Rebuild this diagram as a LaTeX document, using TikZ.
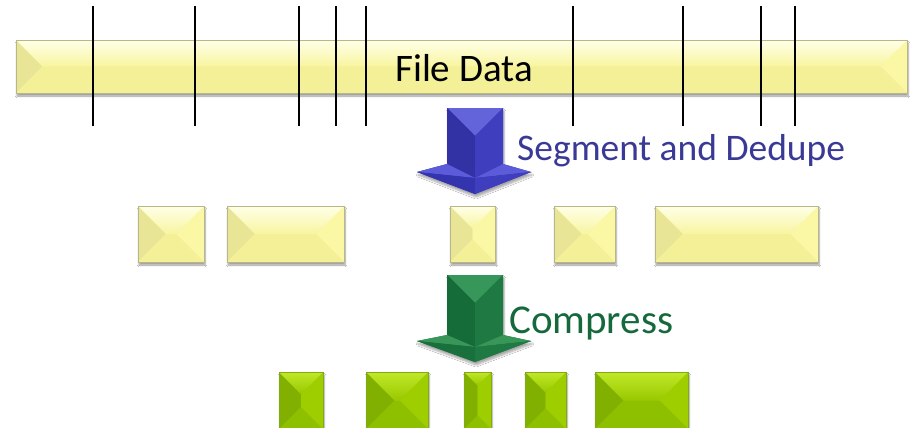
\documentclass[tikz,border=0pt]{standalone}
\usepackage{fontspec}
\setmainfont{Carlito}
\usetikzlibrary{calc,shadows.blur}

\definecolor{ymain}{RGB}{248,245,160}
\definecolor{ylight}{RGB}{255,255,232}
\definecolor{yleft}{RGB}{233,229,150}
\definecolor{yright}{RGB}{250,247,165}
\definecolor{ybottom}{RGB}{244,240,152}
\definecolor{yedge}{RGB}{185,182,135}
\definecolor{gmain}{RGB}{152,200,0}
\definecolor{glight}{RGB}{192,232,40}
\definecolor{gleft}{RGB}{130,176,0}
\definecolor{gright}{RGB}{158,206,0}
\definecolor{gbottom}{RGB}{142,192,0}
\definecolor{gedge}{RGB}{130,170,20}
\definecolor{bluetop}{RGB}{100,100,218}
\definecolor{blueleft}{RGB}{50,50,165}
\definecolor{blueright}{RGB}{62,62,190}
\definecolor{bluewing}{RGB}{92,92,218}
\definecolor{bluelow}{RGB}{52,52,175}
\definecolor{bluetext}{RGB}{58,58,150}
\definecolor{greentop}{RGB}{55,150,90}
\definecolor{greenleft}{RGB}{22,108,57}
\definecolor{greenright}{RGB}{30,122,66}
\definecolor{greenwing}{RGB}{55,150,88}
\definecolor{greenlow}{RGB}{25,112,60}
\definecolor{greentext}{RGB}{22,105,60}

% facets of a bevelled block: left, right, bottom, top (upper), top (lower)
\newcommand{\bevelfaces}[5]{%
  \path let \p1=(path picture bounding box.south west), \p2=(path picture bounding box.north east),
    \n1={min(\x2-\x1,\y2-\y1)/2} in (\x1+\n1,\y2-\n1) coordinate (in1) (\x2-\n1,\y1+\n1) coordinate (in2);
  \fill[#1] (path picture bounding box.south west) -- (path picture bounding box.north west) -- (in1) -- (in1|-in2) -- cycle;
  \fill[#2] (path picture bounding box.north east) -- (path picture bounding box.south east) -- (in2) -- (in2|-in1) -- cycle;
  \fill[#3] (path picture bounding box.south west) -- (path picture bounding box.south east) -- (in2) -- (in1|-in2) -- cycle;
  \shade[top color=#4, bottom color=#5] (path picture bounding box.north west) -- (path picture bounding box.north east) -- (in2|-in1) -- (in1) -- cycle;
}

% block arrow pointing down: top, neck, wing, tip, colour prefix
\newcommand{\blockarrow}[5]{%
  \fill[#5low, blur shadow={shadow xshift=1pt, shadow yshift=-3pt, shadow blur steps=6, shadow opacity=35}]
    (447,#1) -- (503,#1) -- (503,#2) -- (531,#3) -- (475,#4) -- (417,#3) -- (447,#2) -- cycle;
  \fill[#5top] (447,#1) -- (503,#1) -- (475,#1+28) -- cycle;
  \fill[#5left] (447,#1) -- (475,#1+28) -- (475,#3+6) -- (447,#2) -- cycle;
  \fill[#5right] (503,#1) -- (475,#1+28) -- (475,#3+6) -- (503,#2) -- cycle;
  \fill[#5wing] (447,#2) -- (417,#3) -- (475,#3+6) -- cycle;
  \fill[#5wing] (503,#2) -- (531,#3) -- (475,#3+6) -- cycle;
  \fill[#5low] (417,#3) -- (475,#4) -- (475,#3+6) -- cycle;
  \fill[#5right] (531,#3) -- (475,#4) -- (475,#3+6) -- cycle;
}

\tikzstyle{ybox} = [rectangle, inner sep=0pt, draw=yedge, line width=0.8pt, fill=ymain, blur shadow={shadow xshift=1pt, shadow yshift=-3pt, shadow blur steps=6, shadow opacity=40}, path picture={\bevelfaces{yleft}{yright}{ybottom}{ylight}{ymain}}]
\tikzstyle{gbox} = [rectangle, inner sep=0pt, draw=gedge, line width=0.6pt, fill=gmain, blur shadow={shadow xshift=1pt, shadow yshift=-3pt, shadow blur steps=6, shadow opacity=40}, path picture={\bevelfaces{gleft}{gright}{gbottom}{glight}{gmain}}]
\tikzstyle{lbl} = [inner sep=0pt, font=\fontsize{41}{48}\selectfont]
\tikzstyle{cut} = [line width=1.5pt, draw=black]

\begin{document}
\begin{tikzpicture}[x=1pt, y=-1pt]
    \path[use as bounding box, fill=white] (0,0) rectangle (913,428);
    % file
    \node(bar)[ybox, minimum width=891, minimum height=53] at (461.5,66.5) {};
    \node(filedata)[lbl, font=\fontsize{39}{46}\selectfont] at (464,68) {File Data};
    \foreach \x in {93,195,299,336,366,573,683,761,795}
        \draw[cut] (\x,6) -- (\x,126);
    % segment and dedupe
    \blockarrow{108}{164}{172}{194}{blue}
    \node(segment)[lbl, font=\fontsize{37.5}{45}\selectfont, text=bluetext, anchor=base west] at (517,160) {Segment and Dedupe};
    \node(seg1)[ybox, minimum width=66, minimum height=56] at (171,234) {};
    \node(seg2)[ybox, minimum width=117, minimum height=56] at (285.5,234) {};
    \node(seg3)[ybox, minimum width=45, minimum height=56] at (472.5,234) {};
    \node(seg4)[ybox, minimum width=61, minimum height=56] at (584.5,234) {};
    \node(seg5)[ybox, minimum width=163, minimum height=56] at (736.5,234) {};
    % compress
    \blockarrow{275}{335}{341}{362}{green}
    \node(compress)[lbl, text=greentext, anchor=base west] at (509,333) {Compress};
    \node(cmp1)[gbox, minimum width=44, minimum height=57] at (301,400.5) {};
    \node(cmp2)[gbox, minimum width=62, minimum height=57] at (397,400.5) {};
    \node(cmp3)[gbox, minimum width=27, minimum height=57] at (477.5,400.5) {};
    \node(cmp4)[gbox, minimum width=41, minimum height=57] at (545.5,400.5) {};
    \node(cmp5)[gbox, minimum width=93, minimum height=57] at (641.5,400.5) {};
\end{tikzpicture}
\end{document}
